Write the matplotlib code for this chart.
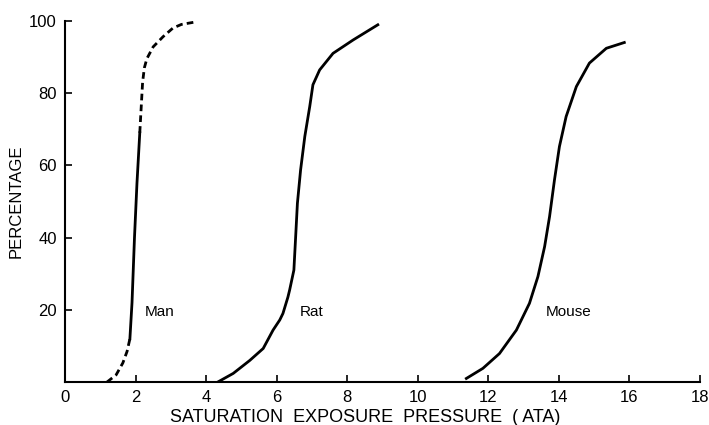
import matplotlib
matplotlib.use("Agg")
import matplotlib.pyplot as plt

plt.rcParams['font.family'] = ['Liberation Sans', 'DejaVu Sans']

# Man: lower and upper parts are extrapolated (dashed), middle part measured
man_low_x = [1.19, 1.45, 1.64, 1.76, 1.84]
man_low_y = [0, 2, 5.3, 8.5, 12]
man_mid_x = [1.84, 1.90, 1.97, 2.04, 2.12]
man_mid_y = [12, 22, 40, 55, 69]
man_high_x = [2.12, 2.16, 2.20, 2.25, 2.32, 2.50, 2.78, 3.06, 3.30, 3.65]
man_high_y = [69, 76, 83, 87, 89.5, 92.8, 95.6, 98, 99, 99.6]

rat_x = [4.33, 4.77, 5.24, 5.62, 5.9, 6.09, 6.18, 6.32, 6.37, 6.49, 6.54,
         6.59, 6.68, 6.8, 6.94, 7.03, 7.22, 7.6, 8.17, 8.87]
rat_y = [0, 2.4, 6, 9.3, 14.4, 17.2, 19, 23.5, 25.5, 31, 40.2,
         49.5, 58.7, 68, 76.3, 82.3, 86.4, 91, 94.7, 98.9]

mouse_x = [11.38, 11.85, 12.32, 12.8, 13.17, 13.41, 13.6, 13.74, 13.88,
           14.02, 14.21, 14.5, 14.87, 15.35, 15.86]
mouse_y = [1.0, 3.8, 7.9, 14.4, 21.8, 29.2, 37.5, 45.8, 56,
           65.2, 73.5, 81.8, 88.3, 92.4, 94]

labels = ['Man', 'Rat', 'Mouse']
label_x = [2.27, 6.66, 13.62]
label_y = [19.5, 19.4, 19.5]

xticks = list(range(0, 19, 2))
yticks = [20, 40, 60, 80, 100]

fig = plt.figure(figsize=(7.09, 4.25), dpi=100)
ax = fig.add_axes([0.0917, 0.101, 0.8953, 0.85])

lw = 2.0
ax.plot(man_low_x, man_low_y, color='black', lw=lw, dashes=(2.4, 1.5))
ax.plot(man_mid_x, man_mid_y, color='black', lw=lw)
ax.plot(man_high_x, man_high_y, color='black', lw=lw, dashes=(2.4, 1.5))
ax.plot(rat_x, rat_y, color='black', lw=lw, solid_joinstyle='round')
ax.plot(mouse_x, mouse_y, color='black', lw=lw, solid_joinstyle='round')

for name, lx, ly in zip(labels, label_x, label_y):
    ax.text(lx, ly, name, fontsize=11, ha='left', va='center')

ax.set_xlim(0, 18)
ax.set_ylim(0, 100)
ax.set_xticks(xticks)
ax.set_yticks(yticks)
ax.tick_params(direction='in', length=5, width=1.2, labelsize=12, pad=6)

ax.spines['top'].set_visible(False)
ax.spines['right'].set_visible(False)
ax.spines['left'].set_linewidth(1.5)
ax.spines['bottom'].set_linewidth(1.5)

ax.set_xlabel('SATURATION  EXPOSURE  PRESSURE  ( ATA)', fontsize=13, labelpad=3)
ax.xaxis.set_label_coords(0.473, -0.075)
ax.set_ylabel('PERCENTAGE', fontsize=12, labelpad=4)

fig.savefig('out.png', dpi=100)
